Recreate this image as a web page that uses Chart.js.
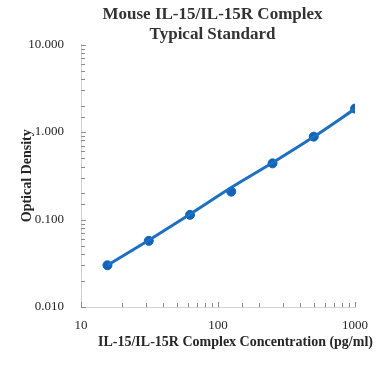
<!DOCTYPE html>
<html><head><meta charset="utf-8">
<script src="https://cdn.jsdelivr.net/npm/chart.js@4"></script>
<style>html,body{margin:0;padding:0;background:#fff}canvas{display:block}</style>
</head><body>
<canvas id="c" width="381" height="383"></canvas>
<script>
const concentrations = [15.6, 31.25, 62.5, 125, 250, 500, 1000];
const opticalDensity = [0.030, 0.057, 0.113, 0.208, 0.438, 0.885, 1.85];
const fittedDensity = [0.030, 0.058, 0.115, 0.232, 0.445, 0.88, 1.84];
const yTickLabels = {'0.01': '0.010', '0.1': '0.100', '1': '1.000', '10': '10.000'};
const xTickLabels = {'10': '10', '100': '100', '1000': '1000'};
const titleLines = ['Mouse IL-15/IL-15R Complex', 'Typical Standard'];
const xTitle = 'IL-15/IL-15R Complex Concentration (pg/ml)';
const yTitle = 'Optical Density';

const SERIF = '"Liberation Serif", "Times New Roman", serif';
function isPow10(v){ const l = Math.log10(v); return Math.abs(l - Math.round(l)) < 1e-9; }
function keyOf(v){ return String(Math.pow(10, Math.round(Math.log10(v)))); }

const innerTicks = {
  id: 'innerTicks',
  afterDraw(chart){
    const ctx = chart.ctx;
    const xs = chart.scales.x, ys = chart.scales.y;
    ctx.save();
    ctx.strokeStyle = '#8c8c8c';
    ctx.lineWidth = 1;
    ys.ticks.forEach(t => {
      const p = Math.round(ys.getPixelForValue(t.value)) + 0.5;
      const len = isPow10(t.value) ? 5 : 4;
      ctx.beginPath(); ctx.moveTo(xs.left, p); ctx.lineTo(xs.left + len, p); ctx.stroke();
    });
    xs.ticks.forEach(t => {
      const p = Math.round(xs.getPixelForValue(t.value)) + 0.5;
      const len = isPow10(t.value) ? 5 : 4;
      ctx.beginPath(); ctx.moveTo(p, ys.bottom); ctx.lineTo(p, ys.bottom - len); ctx.stroke();
    });
    ctx.textAlign = 'center';
    ctx.textBaseline = 'middle';
    ctx.fillStyle = '#333333';
    ctx.font = 'bold 17px ' + SERIF;
    ctx.fillText(titleLines[0], 212.5, 14.5);
    ctx.fillText(titleLines[1], 212.5, 34.5);
    ctx.fillStyle = '#262626';
    ctx.font = 'bold 14px ' + SERIF;
    ctx.fillText(xTitle, 235.5, 342);
    ctx.restore();
  }
};

new Chart(document.getElementById('c'), {
  type: 'scatter',
  data: {
    datasets: [
      {
        data: concentrations.map((x, i) => ({x, y: fittedDensity[i]})),
        showLine: true,
        borderColor: '#1a70c4',
        borderWidth: 3,
        pointRadius: 0,
        tension: 0.3,
        fill: false
      },
      {
        data: concentrations.map((x, i) => ({x, y: opticalDensity[i]})),
        showLine: false,
        pointRadius: 4.5,
        pointBackgroundColor: '#0f63bd',
        pointBorderColor: '#0f63bd',
        pointBorderWidth: 1
      }
    ]
  },
  options: {
    responsive: false,
    animation: false,
    devicePixelRatio: 1,
    layout: {padding: {left: 0, right: 26, top: 44.5, bottom: 0}},
    plugins: {
      legend: {display: false},
      tooltip: {enabled: false},
      title: {display: false}
    },
    scales: {
      x: {
        type: 'logarithmic',
        min: 10, max: 1000,
        grid: {display: true, drawOnChartArea: false, drawTicks: false},
        border: {display: true, color: '#d0d0d0', width: 1},
        ticks: {
          autoSkip: false, maxRotation: 0, padding: 11,
          color: '#262626',
          font: {family: SERIF, size: 13},
          callback: v => isPow10(v) ? xTickLabels[keyOf(v)] : ''
        },
        afterFit: s => { s.height = 76; }
      },
      y: {
        type: 'logarithmic',
        min: 0.01, max: 10,
        grid: {display: true, drawOnChartArea: false, drawTicks: false},
        border: {display: true, color: '#d0d0d0', width: 1},
        title: {
          display: true, text: yTitle, color: '#262626',
          font: {family: SERIF, size: 14, weight: 'bold'},
          padding: {top: 19, bottom: 0}
        },
        ticks: {
          autoSkip: false, padding: 17,
          color: '#262626',
          font: {family: SERIF, size: 13},
          callback: v => isPow10(v) ? yTickLabels[keyOf(v)] : ''
        },
        afterFit: s => { s.width = 81; }
      }
    }
  },
  plugins: [innerTicks]
});
</script>
</body></html>
